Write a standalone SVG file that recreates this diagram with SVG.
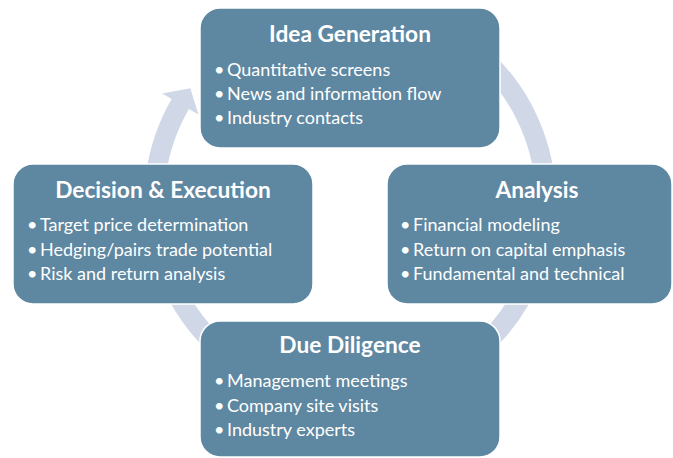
<svg xmlns="http://www.w3.org/2000/svg" width="673" height="458" viewBox="0 0 673 458">
<style>
.box{fill:#5e87a1;stroke:#ffffff;stroke-width:1.5}
.ring{fill:#d0d8e7}
.t{font-family:Lato,"Liberation Sans",sans-serif;font-weight:bold;font-size:22.7px;fill:#ffffff;text-anchor:middle}
.b{font-family:Lato,"Liberation Sans",sans-serif;font-size:18px;fill:#ffffff}
</style>
<rect width="673" height="458" fill="#ffffff"/>
<g id="connectors">
<path class="ring" d="M 453,23.6 A 206 206 0 1 1 171.6,99 L 162.1,93.5 L 190.4,88.2 L 198.4,114.5 L 188.9,109 A 186 186 0 1 0 443,40.9 Z"/>
</g>
<g id="idea">
<rect class="box" x="200" y="8" width="300" height="140" rx="20"/>
<text class="t" x="350" y="42">Idea Generation</text>
<text class="b"><tspan x="214" y="76">•</tspan><tspan x="227" y="76">Quantitative screens</tspan></text>
<text class="b"><tspan x="214" y="100">•</tspan><tspan x="227" y="100">News and information flow</tspan></text>
<text class="b"><tspan x="214" y="124">•</tspan><tspan x="227" y="124">Industry contacts</tspan></text>
</g>
<g id="decision">
<rect class="box" x="13" y="164" width="300" height="140" rx="20"/>
<text class="t" x="163" y="198">Decision &amp; Execution</text>
<text class="b"><tspan x="27" y="231">•</tspan><tspan x="40" y="231">Target price determination</tspan></text>
<text class="b"><tspan x="27" y="256">•</tspan><tspan x="40" y="256">Hedging/pairs trade potential</tspan></text>
<text class="b"><tspan x="27" y="280">•</tspan><tspan x="40" y="280">Risk and return analysis</tspan></text>
</g>
<g id="analysis">
<rect class="box" x="387" y="164" width="285" height="140" rx="20"/>
<text class="t" x="537" y="198">Analysis</text>
<text class="b"><tspan x="400" y="231">•</tspan><tspan x="413" y="231">Financial modeling</tspan></text>
<text class="b"><tspan x="400" y="256">•</tspan><tspan x="413" y="256">Return on capital emphasis</tspan></text>
<text class="b"><tspan x="400" y="280">•</tspan><tspan x="413" y="280">Fundamental and technical</tspan></text>
</g>
<g id="duediligence">
<rect class="box" x="200" y="321" width="300" height="136" rx="20"/>
<text class="t" x="350" y="353">Due Diligence</text>
<text class="b"><tspan x="214" y="387">•</tspan><tspan x="227" y="387">Management meetings</tspan></text>
<text class="b"><tspan x="214" y="412">•</tspan><tspan x="227" y="412">Company site visits</tspan></text>
<text class="b"><tspan x="214" y="436">•</tspan><tspan x="227" y="436">Industry experts</tspan></text>
</g>
</svg>
